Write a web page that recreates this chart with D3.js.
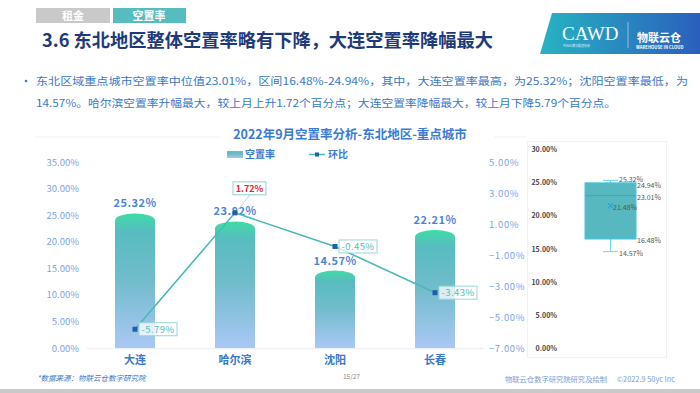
<!DOCTYPE html>
<html>
<head>
<meta charset="utf-8">
<script src="https://cdn.jsdelivr.net/npm/d3@7"></script>
<style>
  html, body { margin: 0; padding: 0; background: #fff; }
  svg { display: block; font-family: "Noto Sans CJK SC", "Noto Sans", sans-serif; }
</style>
</head>
<body>
<svg id="chart" width="700" height="393"></svg>
<script>
// data
const cities = ['大连', '哈尔滨', '沈阳', '长春'];
const vacancy = [25.32, 23.82, 14.57, 22.21];
const mom = [-5.79, 1.72, -0.45, -3.43];
const leftTicks = [0, 5, 10, 15, 20, 25, 30, 35];
const rightTicks = [-7, -5, -3, -1, 1, 3, 5];
const boxKeys = ['max', 'q3', 'median', 'mean', 'q1', 'min'];
const boxValues = [25.32, 24.94, 23.01, 21.48, 16.48, 14.57];
const boxTicks = [0, 5, 10, 15, 20, 25, 30];

const svg = d3.select('#chart');
const defs = svg.append('defs');

const barGrad = defs.append('linearGradient')
  .attr('id', 'barGrad').attr('x1', 0).attr('y1', 0).attr('x2', 0).attr('y2', 1);
barGrad.append('stop').attr('offset', '0%').attr('stop-color', '#3edca6');
barGrad.append('stop').attr('offset', '14%').attr('stop-color', '#58bcc0');
barGrad.append('stop').attr('offset', '50%').attr('stop-color', '#72bccc');
barGrad.append('stop').attr('offset', '100%').attr('stop-color', '#aac8f6');

const logoGrad = defs.append('linearGradient')
  .attr('id', 'logoGrad').attr('x1', 0).attr('y1', 0).attr('x2', 1).attr('y2', 0);
logoGrad.append('stop').attr('offset', '0%').attr('stop-color', '#27b3c2');
logoGrad.append('stop').attr('offset', '100%').attr('stop-color', '#2a5fbd');

// ---------- header ----------
svg.append('rect').attr('x', 36).attr('y', 8).attr('width', 74).attr('height', 15).attr('fill', '#c9c9c9');
svg.append('rect').attr('x', 113).attr('y', 8).attr('width', 73).attr('height', 15).attr('fill', '#57bcc0');
svg.append('text').attr('x', 73).attr('y', 20).attr('text-anchor', 'middle')
  .attr('fill', '#fff').attr('font-size', 11).attr('font-weight', 'bold').text('租金');
svg.append('text').attr('x', 149).attr('y', 20).attr('text-anchor', 'middle')
  .attr('fill', '#fff').attr('font-size', 11).attr('font-weight', 'bold').text('空置率');
svg.append('text').attr('x', 42).attr('y', 47)
  .attr('fill', '#1f3a7a').attr('font-size', 18.2).attr('font-weight', 'bold')
  .attr('textLength', 451).attr('lengthAdjust', 'spacingAndGlyphs')
  .text('3.6 东北地区整体空置率略有下降，大连空置率降幅最大');

// logo
svg.append('path').attr('d', 'M552,13 L700,13 L700,54 L540,54 Z').attr('fill', 'url(#logoGrad)');
svg.append('text').attr('x', 562).attr('y', 40).attr('fill', '#fff')
  .attr('font-size', 19).attr('font-family', 'Liberation Serif, serif').text('CAWD');
svg.append('text').attr('x', 563).attr('y', 47).attr('fill', '#e8f4ff')
  .attr('font-size', 3).text('中国仓储与配送协会');
svg.append('line').attr('x1', 628).attr('x2', 628).attr('y1', 22).attr('y2', 48)
  .attr('stroke', '#ffffff').attr('stroke-opacity', 0.5);
svg.append('text').attr('x', 637).attr('y', 42).attr('fill', '#fff')
  .attr('font-size', 11).attr('font-weight', 'bold').text('物联云仓');
svg.append('text').attr('x', 636).attr('y', 49).attr('fill', '#fff')
  .attr('font-size', 4.2).attr('font-weight', 'bold').text('WAREHOUSE IN CLOUD');

// bullet text
svg.append('circle').attr('cx', 26).attr('cy', 81).attr('r', 1.3).attr('fill', '#3a78c8');
svg.append('text').attr('x', 36).attr('y', 85).attr('fill', '#3a78c8').attr('font-size', 10.5)
  .attr('textLength', 652).attr('lengthAdjust', 'spacingAndGlyphs')
  .text('东北区域重点城市空置率中位值23.01%，区间16.48%-24.94%，其中，大连空置率最高，为25.32%；沈阳空置率最低，为');
svg.append('text').attr('x', 36).attr('y', 107).attr('fill', '#3a78c8').attr('font-size', 10.5)
  .attr('textLength', 580).attr('lengthAdjust', 'spacingAndGlyphs')
  .text('14.57%。哈尔滨空置率升幅最大，较上月上升1.72个百分点；大连空置率降幅最大，较上月下降5.79个百分点。');

// ---------- main chart ----------
const x = d3.scaleBand().domain(cities).range([85, 485]);
const yL = d3.scaleLinear().domain([0, 35]).range([348, 162]);
const yR = d3.scaleLinear().domain([-7, 5]).range([348, 162]);

svg.append('line').attr('x1', 35).attr('x2', 220).attr('y1', 137).attr('y2', 137).attr('stroke', '#eef0f4');
svg.append('line').attr('x1', 494).attr('x2', 526).attr('y1', 137).attr('y2', 137).attr('stroke', '#eef0f4');
svg.append('text').attr('x', 350).attr('y', 139).attr('text-anchor', 'middle')
  .attr('fill', '#3a7bd5').attr('font-size', 12.5).attr('font-weight', 'bold')
  .text('2022年9月空置率分析-东北地区-重点城市');

// legend
svg.append('rect').attr('x', 227).attr('y', 151).attr('width', 16).attr('height', 7).attr('fill', 'url(#barGrad)');
svg.append('text').attr('x', 245).attr('y', 158).attr('fill', '#3a7bd5').attr('font-size', 10)
  .attr('font-weight', 'bold').text('空置率');
svg.append('line').attr('x1', 309).attr('x2', 325).attr('y1', 154.5).attr('y2', 154.5)
  .attr('stroke', '#4cb8b8').attr('stroke-width', 1.5);
svg.append('rect').attr('x', 315).attr('y', 152.5).attr('width', 4).attr('height', 4).attr('fill', '#1f5fa8');
svg.append('text').attr('x', 328).attr('y', 158).attr('fill', '#3a7bd5').attr('font-size', 10)
  .attr('font-weight', 'bold').text('环比');

// axes
const axisL = svg.append('g').attr('transform', 'translate(85,0)')
  .call(d3.axisLeft(yL).tickValues(leftTicks).tickSize(0).tickPadding(6)
    .tickFormat(d => d3.format('.2f')(d) + '%'));
axisL.select('.domain').remove();
axisL.selectAll('text').attr('fill', '#7aa5e8').attr('font-size', 9.5)
  .attr('font-family', 'Noto Sans CJK SC, sans-serif');

const axisR = svg.append('g').attr('transform', 'translate(485,0)')
  .call(d3.axisRight(yR).tickValues(rightTicks).tickSize(0).tickPadding(4)
    .tickFormat(d => d3.format('.2f')(d) + '%'));
axisR.select('.domain').remove();
axisR.selectAll('text').attr('fill', '#7aa5e8').attr('font-size', 9.5)
  .attr('letter-spacing', 0.6).attr('font-family', 'Noto Sans CJK SC, sans-serif');

svg.append('line').attr('x1', 86).attr('x2', 484).attr('y1', 348.5).attr('y2', 348.5)
  .attr('stroke', '#eef2f8').attr('stroke-width', 1.5);

const axisB = svg.append('g').attr('transform', 'translate(0,348)')
  .call(d3.axisBottom(x).tickSize(0).tickPadding(8));
axisB.select('.domain').remove();
axisB.selectAll('text').attr('fill', '#3a78c8').attr('font-size', 11).attr('font-weight', 'bold')
  .attr('font-family', 'Noto Sans CJK SC, sans-serif');

// bars with an elliptical top
const bw = 40, ry = 7;
svg.append('g').selectAll('path').data(cities).join('path')
  .attr('d', (d, i) => {
    const x0 = x(d) + (x.bandwidth() - bw) / 2, x1 = x0 + bw, top = yL(vacancy[i]);
    return `M${x0},${top + ry} A${bw / 2},${ry} 0 0 1 ${x1},${top + ry} L${x1},${yL(0)} L${x0},${yL(0)} Z`;
  })
  .attr('fill', 'url(#barGrad)');

svg.append('g').selectAll('text').data(cities).join('text')
  .attr('x', d => x(d) + x.bandwidth() / 2)
  .attr('y', (d, i) => yL(vacancy[i]) - 6)
  .attr('text-anchor', 'middle').attr('fill', '#4a86d8')
  .attr('font-size', 11).attr('font-weight', 'bold').attr('letter-spacing', 0.5)
  .text((d, i) => vacancy[i].toFixed(2) + '%');

// month-on-month line
const cx = d => x(d) + x.bandwidth() / 2;
const pts = cities.map((d, i) => [cx(d), yR(mom[i])]);
svg.append('path').attr('d', d3.line()(pts)).attr('fill', 'none')
  .attr('stroke', '#4cb8b8').attr('stroke-width', 1.6);
svg.append('g').selectAll('rect').data(pts).join('rect')
  .attr('x', p => p[0] - 2.5).attr('y', p => p[1] - 2.5).attr('width', 5).attr('height', 5)
  .attr('fill', '#1f5fa8');

// line labels
const lbl = svg.append('g');
cities.forEach((d, i) => {
  const [px, py] = pts[i];
  const txt = mom[i].toFixed(2) + '%';
  if (mom[i] > 0) {
    lbl.append('line').attr('x1', 250).attr('y1', py - 18).attr('x2', px + 2).attr('y2', py - 2)
      .attr('stroke', '#a8c8f0').attr('stroke-width', 0.8);
    lbl.append('rect').attr('x', 233).attr('y', py - 31).attr('width', 33).attr('height', 13)
      .attr('fill', '#fff').attr('stroke', '#8fd0d4');
    lbl.append('text').attr('x', 249.5).attr('y', py - 21).attr('text-anchor', 'middle')
      .attr('fill', '#e8202a').attr('font-size', 9).attr('font-weight', 'bold').text(txt);
  } else {
    lbl.append('rect').attr('x', px + 4).attr('y', py - 6.5).attr('width', 38).attr('height', 13)
      .attr('fill', 'rgba(255,255,255,0.75)').attr('stroke', '#9ad6d6');
    lbl.append('text').attr('x', px + 23).attr('y', py + 3.5).attr('text-anchor', 'middle')
      .attr('fill', '#56bcbc').attr('font-size', 9.5).attr('letter-spacing', 0.4).text(txt);
  }
});

// ---------- box plot ----------
const yB = d3.scaleLinear().domain([0, 30]).range([348.3, 149.3]);
const bv = {};
boxKeys.forEach((k, i) => { bv[k] = boxValues[i]; });

svg.append('rect').attr('x', 527.5).attr('y', 141.5).attr('width', 139).attr('height', 216)
  .attr('fill', '#fff').attr('stroke', '#f0f1f3');
const axisBox = svg.append('g').attr('transform', 'translate(557,0)')
  .call(d3.axisLeft(yB).tickValues(boxTicks).tickSize(0).tickPadding(0)
    .tickFormat(d => d3.format('.2f')(d) + '%'));
axisBox.select('.domain').remove();
axisBox.selectAll('text').attr('fill', '#444').attr('font-size', 7).attr('font-weight', 'bold')
  .attr('font-family', 'Noto Sans CJK SC, sans-serif');

const bx0 = 585, bx1 = 636, bmid = 610.5;
svg.append('line').attr('x1', bmid).attr('x2', bmid).attr('y1', yB(bv.max)).attr('y2', yB(bv.q3))
  .attr('stroke', '#6fd2f0');
svg.append('line').attr('x1', bmid).attr('x2', bmid).attr('y1', yB(bv.q1)).attr('y2', yB(bv.min))
  .attr('stroke', '#6fd2f0');
svg.append('line').attr('x1', bmid - 7.5).attr('x2', bmid + 7.5).attr('y1', yB(bv.max)).attr('y2', yB(bv.max))
  .attr('stroke', '#6fd2f0');
svg.append('line').attr('x1', bmid - 7.5).attr('x2', bmid + 7.5).attr('y1', yB(bv.min)).attr('y2', yB(bv.min))
  .attr('stroke', '#6fd2f0');
svg.append('rect').attr('x', bx0).attr('y', yB(bv.q3)).attr('width', bx1 - bx0)
  .attr('height', yB(bv.q1) - yB(bv.q3)).attr('fill', '#57b9bf').attr('stroke', '#42c4e4');
svg.append('line').attr('x1', bx0).attr('x2', bx1).attr('y1', yB(bv.median)).attr('y2', yB(bv.median))
  .attr('stroke', '#3aa3d2');
const my = yB(bv.mean);
svg.append('path').attr('d', `M${bmid - 2.5},${my - 2.5}L${bmid + 2.5},${my + 2.5}M${bmid - 2.5},${my + 2.5}L${bmid + 2.5},${my - 2.5}`)
  .attr('stroke', '#2aa6d8').attr('stroke-width', 1.3);

const boxLabelX = { max: 619, q3: 637, median: 637, mean: 613, q1: 637, min: 619 };
const boxLabelDy = { max: -1, q3: 2.5, median: 2, mean: 2, q1: 2, min: 2 };
svg.append('g').selectAll('text').data(boxKeys).join('text')
  .attr('x', k => boxLabelX[k]).attr('y', k => yB(bv[k]) + 2.5 + boxLabelDy[k])
  .attr('fill', '#555').attr('font-size', 7)
  .text(k => bv[k].toFixed(2) + '%');

// ---------- footer ----------
svg.append('text').attr('x', 37).attr('y', 381).attr('fill', '#3a78c8').attr('font-size', 7.5)
  .attr('font-style', 'italic').text('*数据来源：物联云仓数字研究院');
svg.append('text').attr('x', 343).attr('y', 379).attr('fill', '#888').attr('font-size', 6.5).text('15/27');
svg.append('text').attr('x', 505).attr('y', 382).attr('fill', '#7aa0d8').attr('font-size', 7.3)
  .attr('textLength', 102).attr('lengthAdjust', 'spacingAndGlyphs')
  .text('物联云仓数字研究院研究及绘制');
svg.append('text').attr('x', 617).attr('y', 382).attr('fill', '#7aa0d8').attr('font-size', 7.5)
  .attr('textLength', 58).attr('lengthAdjust', 'spacingAndGlyphs')
  .text('©2022.9 50yc Inc');
svg.append('rect').attr('x', 0).attr('y', 389).attr('width', 700).attr('height', 4).attr('fill', '#c8c9c8');
</script>
</body>
</html>
